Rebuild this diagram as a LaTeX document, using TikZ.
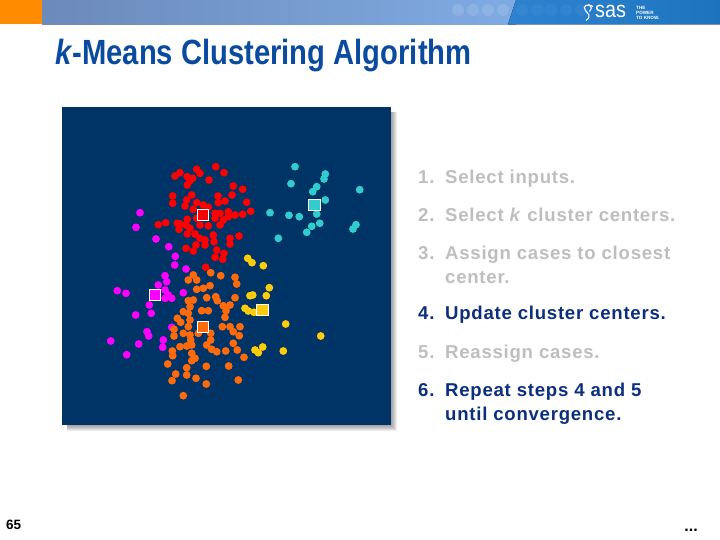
\documentclass[tikz,border=0pt]{standalone}
\usepackage{fontspec}
\setmainfont{Liberation Sans}
\newfontfamily\stepfont[LetterSpace=4]{Liberation Sans}
\definecolor{panelblue}{HTML}{003366}
\definecolor{titleblue}{HTML}{0A4BA0}
\definecolor{stepblue}{HTML}{0B2F7E}
\definecolor{stepgray}{HTML}{BEBEBE}
\definecolor{dotred}{HTML}{FF0000}
\definecolor{dotorange}{HTML}{FF6A0A}
\definecolor{dotmagenta}{HTML}{FF00FF}
\definecolor{dotyellow}{HTML}{FFCC0A}
\definecolor{dotteal}{HTML}{33CCCC}
\tikzstyle{stepon} = [anchor=base west,inner sep=0,text=stepblue,font=\fontsize{18.6}{24}\stepfont\bfseries]
\tikzstyle{stepoff} = [stepon,text=stepgray]
\tikzstyle{centre} = [draw=white,line width=1pt,inner sep=0,minimum size=11.5pt]

\begin{document}
\begin{tikzpicture}[x=1pt,y=-1pt]
    \useasboundingbox (0,0) rectangle (720,540);

    % banner
    \fill[left color={rgb,255:red,108;green,138;blue,186},right color={rgb,255:red,127;green,171;blue,227}] (42,0) rectangle (516,24.5);
    \fill[left color={rgb,255:red,46;green,131;blue,208},right color={rgb,255:red,28;green,116;blue,190}] (516,0) -- (720,0) -- (720,24.5) -- (508,24.5) -- cycle;
    \fill[orange!90!yellow] (0,0) rectangle (42,24.5);
    \foreach \cx in {458,473,488,503}
        \fill[white,opacity=0.12] (\cx,10) circle (6);
    \foreach \cx in {522,537,551,566,581}
        \fill[white,opacity=0.04] (\cx,10) circle (6);
    \draw[white,line width=1.1pt] (593,6.5) .. controls (587,3) and (582,6) .. (585.5,10.5) .. controls (588,14) and (592,16) .. (586,20.5);
    \draw[white,line width=1.1pt] (588,4.5) .. controls (594,7.5) and (590,10) .. (589.5,11.5);
    \node[anchor=base west,inner sep=0,text=white,xscale=0.86,font=\fontsize{23}{23}\selectfont] (sas) at (595,18) {sas};
    \node[anchor=north west,inner sep=0,align=left,text=white,font=\fontsize{4.6}{4.6}\selectfont\bfseries] (tag) at (636,6.5) {THE\\POWER\\TO KNOW.};

    % title
    \node[anchor=base west,inner sep=0,text=titleblue,xscale=0.834,font=\fontsize{35}{35}\selectfont\bfseries] (title) at (55,65) {\textit{k}-Means Clustering Algorithm};

    % panel
    \foreach \g in {1,...,7}
        \fill[black,opacity=0.07] (67,112) rectangle ++(323+\g,312+\g);
    \fill[panelblue] (62,107) rectangle (391,425);

    \foreach \px/\py in {140/212.7,136/227.3,156/239,168.7/246.7,175.3/256.3,174.7/265,186/269,165/275.7,166.7/281.7,158.3/285,117.3/290.7,126/293.3,165/290,168.3/295,165/298.3,171.7/298.3,183.3/292.7,149.3/305,135.7/315,151.3/313.3,171.7/327.3,147/331.7,148.7/336,163.3/340,162.7/347.3,138.7/344,110.7/341,126.7/354.7}
        \fill[dotmagenta] (\px,\py) circle (3.9);
    \foreach \px/\py in {215.7/166.7,224/172.7,196.7/169.3,200/173.3,180/172.7,175/176,187.3/176.7,192.7/178.3,190/180.7,187.3/185,209/180,233.3/186,242.7/189.3,232/195,218/196,218.3/202.7,225/201,246.7/202.3,250.7/211.3,242.7/214.3,235/215,228.3/211.7,228.3/216.7,220/213.3,215/213.3,215/218.3,223.3/220,220/225,172.7/196,172.7/203.3,191.7/195,186.7/200,185/206,196.7/202.7,203.3/205,208.3/207.3,193.3/209.3,196.7/218.3,200/225,208.3/225.7,158.3/224.7,165.7/222.7,177.3/223.3,180/224,187.3/219.3,186/225,179/229.3,190/228.3,187.3/234,195/234,200/238.3,205/240,205/245,213.3/235,214/241.7,230/238.3,239/236,230/244,186/248.3,196/245,193.3/251,216.7/250,224/253.3,215/257.3,222.7/259.3,205.7/267.3}
        \fill[dotred] (\px,\py) circle (3.9);
    \foreach \px/\py in {193.3/275,188.3/280,196.7/280,210.7/272.7,220.7/275.7,235/277.3,236.7/284,210/285.7,203.3/288.3,196.7/289.3,193.3/300,188.3/300.7,206.7/297.7,215.7/296.7,217.3/300.7,235/297.7,230/305,223.3/305.7,226/310.7,225/317.3,190/306.7,183.3/311.7,188.3/313.3,201.7/310.7,208.3/310.7,177.3/318.3,180.7/322.3,190/320,188.3/326.7,174/329.3,174/336,183.3/333.3,190/335,198.3/333.3,190.7/340,191.7/345,180/346.7,186.7/346,210.7/333.3,210.7/340,206.7/345,211.7/349.3,216.7/351.7,222.3/326.7,230/326.7,233.3/331.7,240/326.7,239.3/335.7,233.3/343.3,237.3/350,225.7/351,244/357.3,172.3/351,172.7/355.7,191.7/353.3,195/358.3,191.7/360.7,167.7/364,206.3/366.3,228.7/366,186.7/367.7,186.7/375,175.7/374,172/380.7,196/378.3,206.3/384,238.3/380,183.3/395.7}
        \fill[dotorange] (\px,\py) circle (3.9);
    \foreach \px/\py in {247.7/258.3,252/262.7,263.3/265.7,269.3/287.7,266.3/295.7,250/295.7,252.7/295,245/308.3,248.3/311,254/312.3,285.7/324,320.7/336,255/350,258.3/352.7,262.7/347,283.3/351}
        \fill[dotyellow] (\px,\py) circle (3.9);
    \foreach \px/\py in {295/166.7,291/183.7,325.3/174,324/179,316.7/186.7,312.7/191.7,359.7/189.7,325.3/200,270/212.7,289/215.3,299.3/216.7,316.7/214,319.7/223.3,311.7/226.3,306.7/232.3,278.3/238.3,356/224.7,353/229}
        \fill[dotteal] (\px,\py) circle (3.9);

    \node[centre,fill=dotred] (cred) at (203,215) {};
    \node[centre,fill=dotteal] (cteal) at (314.5,205) {};
    \node[centre,fill=dotmagenta] (cmagenta) at (155,295) {};
    \node[centre,fill=dotorange] (corange) at (203,327) {};
    \node[centre,fill=dotyellow] (cyellow) at (262.5,310) {};

    % steps
    \node[stepoff] (stepa) at (418,183.7) {\makebox[27pt][l]{1.}Select inputs.};
    \node[stepoff] (stepb) at (418,221.7) {\makebox[27pt][l]{2.}Select \textit{k} cluster centers.};
    \node[stepoff] (stepc) at (418,259.5) {\makebox[27pt][l]{3.}Assign cases to closest};
    \node[stepoff] (stepcb) at (445,283.5) {center.};
    \node[stepon] (stepd) at (418,319.3) {\makebox[27pt][l]{4.}Update cluster centers.};
    \node[stepoff] (stepe) at (418,358.3) {\makebox[27pt][l]{5.}Reassign cases.};
    \node[stepon] (stepf) at (418,396.7) {\makebox[27pt][l]{6.}Repeat steps 4 and 5};
    \node[stepon] (stepfb) at (445,420.7) {until convergence.};

    % footer
    \node[anchor=base west,inner sep=0,font=\fontsize{13.5}{13.5}\selectfont\bfseries] (page) at (6,529) {65};
    \node[anchor=base east,inner sep=0,font=\fontsize{16}{16}\selectfont\bfseries] (more) at (698,531) {...};
\end{tikzpicture}
\end{document}
